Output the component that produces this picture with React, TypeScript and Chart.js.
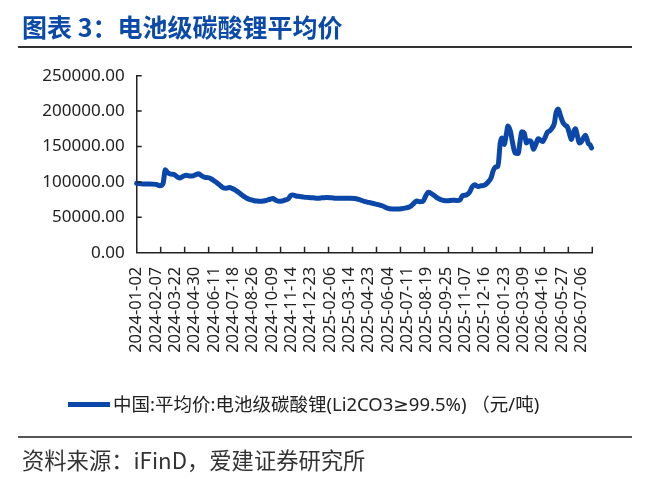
import React, { useEffect, useRef } from 'react';
import Chart from 'chart.js/auto';

const titleText = '图表 3：电池级碳酸锂平均价';
const seriesName = '中国:平均价:电池级碳酸锂(Li2CO3≥99.5%) （元/吨)';
const sourceText = '资料来源：iFinD，爱建证券研究所';

const dateLabels = [
  '2024-01-02', '2024-02-07', '2024-03-22', '2024-04-30', '2024-06-11', '2024-07-18',
  '2024-08-26', '2024-10-09', '2024-11-14', '2024-12-23', '2025-02-06', '2025-03-14',
  '2025-04-23', '2025-06-04', '2025-07-11', '2025-08-19', '2025-09-25', '2025-11-07',
  '2025-12-16', '2026-01-23', '2026-03-09', '2026-04-16', '2026-05-27', '2026-07-06',
];
const labelStep = 25;
const categoryCount = 589;
const tickMarkStep = 31;

const pointIndex = [
  0, 8, 17, 25, 30, 34, 37, 40, 44, 48, 52, 56, 60, 64, 68, 72, 76, 80, 84, 88,
  92, 96, 100, 104, 108, 112, 116, 120, 124, 128, 132, 136, 140, 144, 148, 152, 156, 160, 164, 168,
  172, 176, 180, 184, 188, 192, 196, 199, 202, 206, 211, 216, 222, 228, 234, 240, 246, 252, 258, 264,
  270, 276, 282, 288, 294, 300, 306, 312, 318, 324, 330, 336, 342, 348, 354, 358, 362, 366, 370, 374,
  377, 381, 385, 389, 393, 397, 402, 408, 414, 418, 421, 426, 430, 434, 437, 441, 445, 450, 454, 458,
  461, 464, 467, 470, 472, 475, 478, 480, 483, 486, 489, 493, 496, 498, 501, 504, 507, 510, 513, 516,
  519, 522, 525, 528, 531, 534, 537, 540, 542, 545, 548, 551, 554, 557, 560, 562, 565, 567, 570, 572,
  575, 578, 580, 582, 584, 586, 588,
];
const priceValues = [
  98000, 97000, 97000, 96500, 94500, 97500, 117000, 113000, 111000, 110500, 107500, 105500, 108000, 109500, 108500, 108500, 110000, 111500, 108500, 106500,
  106000, 104500, 101500, 98500, 95000, 91500, 91000, 92000, 90500, 88000, 85000, 81500, 78500, 76000, 74500, 73500, 73000, 72500, 73000, 74000,
  75500, 76500, 74000, 72500, 73000, 74500, 76000, 80500, 81500, 80000, 79500, 78500, 78000, 77500, 77000, 77500, 78000, 77500, 77000, 77000,
  76800, 77000, 76500, 75000, 72500, 71000, 69500, 68000, 66000, 63000, 61800, 61700, 62000, 63200, 65500, 69500, 73000, 72000, 72500, 81000,
  85500, 83500, 80500, 77000, 75000, 73800, 73500, 74200, 73800, 74500, 80500, 81500, 85000, 93500, 96000, 93500, 94500, 95500, 99500, 105500,
  116000, 121000, 122000, 155000, 162000, 153000, 168000, 179000, 172000, 155000, 141000, 140000, 160000, 171000, 169000, 155000, 158000, 157000, 146000, 153000,
  161000, 159000, 157000, 163000, 170000, 172000, 176000, 183000, 197000, 203000, 193000, 184000, 180000, 177000, 166000, 160000, 171000, 175000, 164000, 155000,
  157000, 163000, 166000, 161000, 154000, 152500, 148000,
];

const yTickValues = [0, 50000, 100000, 150000, 200000, 250000];

const BLUE = '#0a47a8';
const AXIS = '#222222';
const LATIN = '"Noto Sans", "Noto Sans CJK SC", sans-serif';
const LEGEND_FONT = '"Noto Sans", "DejaVu Sans", "Noto Sans CJK SC", sans-serif';
const CJK = '"Noto Sans CJK SC", "Noto Sans", sans-serif';

const tickMarkPlugin = {
  id: 'inwardTicks',
  afterDatasetsDraw(chart: any) {
    const { ctx, chartArea, scales } = chart;
    const xs = scales.x;
    const ys = scales.y;
    ctx.save();
    ctx.strokeStyle = AXIS;
    ctx.lineWidth = 1.5;
    ctx.beginPath();
    for (let v = tickMarkStep; v <= categoryCount; v += tickMarkStep) {
      const px = xs.getPixelForValue(v);
      ctx.moveTo(px, chartArea.bottom);
      ctx.lineTo(px, chartArea.bottom - 6);
    }
    yTickValues.forEach((v) => {
      if (v === 0) return;
      const py = ys.getPixelForValue(v);
      ctx.moveTo(chartArea.left, py);
      ctx.lineTo(chartArea.left + 5, py);
    });
    ctx.stroke();
    ctx.restore();
  },
};

export default function App() {
  const canvasRef = useRef<HTMLCanvasElement | null>(null);

  useEffect(() => {
    document.body.style.margin = '0';
    const canvas = canvasRef.current;
    if (!canvas) return;
    const chart = new Chart(canvas, {
      type: 'line',
      data: {
        datasets: [
          {
            label: seriesName,
            data: pointIndex.map((x, i) => ({ x, y: priceValues[i] })),
            borderColor: BLUE,
            backgroundColor: BLUE,
            borderWidth: 5,
            pointRadius: 0,
            cubicInterpolationMode: 'monotone',
            borderJoinStyle: 'round',
            borderCapStyle: 'round',
            clip: false,
          } as any,
        ],
      },
      options: {
        animation: false,
        responsive: false,
        maintainAspectRatio: false,
        layout: { padding: { left: 0, top: 75.7, right: 57.7, bottom: 479 - 252.7 - 110 } },
        plugins: { legend: { display: false }, tooltip: { enabled: false }, title: { display: false } },
        scales: {
          x: {
            type: 'linear',
            min: 0,
            max: categoryCount,
            afterBuildTicks: (s: any) => {
              s.ticks = dateLabels.map((_, i) => ({ value: i * labelStep }));
            },
            afterFit: (s: any) => {
              s.height = 110;
            },
            ticks: {
              autoSkip: false,
              minRotation: 90,
              maxRotation: 90,
              padding: 14,
              color: AXIS,
              font: { family: LATIN, size: 16.5 },
              callback: (v: any) => dateLabels[Math.round(Number(v) / labelStep)] ?? '',
            },
            grid: { display: false, drawTicks: false },
            border: { display: true, color: AXIS, width: 1.5 },
          },
          y: {
            min: 0,
            max: 250000,
            afterBuildTicks: (s: any) => {
              s.ticks = yTickValues.map((v) => ({ value: v }));
            },
            afterFit: (s: any) => {
              s.width = 136.7;
            },
            ticks: {
              padding: 12,
              color: AXIS,
              font: { family: LATIN, size: 17 },
              callback: (v: any) => Number(v).toFixed(2),
            },
            grid: { display: false, drawTicks: false },
            border: { display: true, color: AXIS, width: 1.5 },
          },
        },
      } as any,
      plugins: [tickMarkPlugin],
    });
    return () => chart.destroy();
  }, []);

  return (
    <div style={{ position: 'absolute', left: 0, top: 0, width: 650, height: 479, background: '#fff', overflow: 'hidden' }}>
      <canvas ref={canvasRef} width={650} height={479} style={{ position: 'absolute', left: 0, top: 0, width: 650, height: 479 }} />
      <div style={{ position: 'absolute', left: 22, top: 12, fontFamily: CJK, fontWeight: 700, fontSize: 25, lineHeight: '28px', color: '#0b4aa9', whiteSpace: 'nowrap' }}>
        {titleText}
      </div>
      <div style={{ position: 'absolute', left: 18, top: 46, width: 614, height: 2, background: '#333' }} />
      <div style={{ position: 'absolute', left: 68, top: 401.5, width: 42, height: 5, background: BLUE }} />
      <div style={{ position: 'absolute', left: 113, top: 393, fontFamily: LEGEND_FONT, fontSize: 18.5, lineHeight: '22px', color: '#222', whiteSpace: 'nowrap' }}>
        {seriesName}
      </div>
      <div style={{ position: 'absolute', left: 18, top: 436, width: 614, height: 1.5, background: '#555' }} />
      <div style={{ position: 'absolute', left: 22, top: 446, fontFamily: CJK, fontSize: 22.3, lineHeight: '26px', color: '#333', whiteSpace: 'nowrap' }}>
        {sourceText}
      </div>
    </div>
  );
}
